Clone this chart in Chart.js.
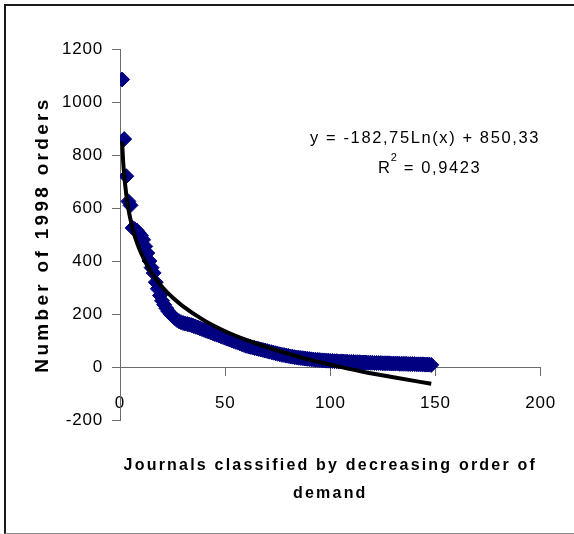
<!DOCTYPE html>
<html><head><meta charset="utf-8">
<script src="https://cdn.jsdelivr.net/npm/chart.js@4/dist/chart.umd.min.js"></script>
<style>
html,body{margin:0;padding:0;background:#fff;overflow:hidden;}
#wrap{position:relative;width:574px;height:534px;}
#frame{position:absolute;left:4px;top:4px;width:580px;height:527px;border-left:2px solid #1a1a1a;border-top:2px solid #1a1a1a;border-bottom:1px solid #8a8a8a;pointer-events:none;}
canvas{position:absolute;left:0;top:0;}
</style></head><body>
<div id="wrap"><canvas id="c" width="574" height="534"></canvas><div id="frame"></div></div>
<script>
// Number of 1998 orders per journal, journals ranked 1..N by decreasing demand
const orders = [
  1085, 860, 720, 625, 610, 525, 520, 515, 505, 495,
  480, 455, 430, 400, 375, 355, 320, 295, 270, 250,
  235, 222, 210, 200, 192, 185, 178, 173, 169, 166,
  164, 162, 160, 158, 155, 152, 149, 146, 143, 140,
  137, 134, 131, 128, 125, 122, 119, 116, 113, 110,
  107, 104, 101, 98, 95, 92, 89, 86, 83, 80,
  78, 76, 74, 72, 70, 68, 66, 64, 62, 60,
  58, 56, 54, 52, 50, 48, 46, 45, 43, 42,
  40, 39, 37, 36, 35, 34, 33, 32, 31, 30,
  29, 28, 27, 27, 26, 25, 25, 24, 24, 23,
  23, 22, 22, 21, 21, 21, 20, 20, 19, 19,
  19, 18, 18, 18, 17, 17, 17, 16, 16, 16,
  15, 15, 15, 15, 14, 14, 14, 14, 13, 13,
  13, 13, 12, 12, 12, 12, 11, 11, 11, 11,
  10, 10, 10, 10, 9, 9, 9, 8
];
// Logarithmic trendline
const trendRanks  = [1, 1.5, 2, 3, 4, 5, 6, 8, 10, 13, 16, 20, 25, 30, 40, 50, 60, 70, 80, 90, 100, 115, 130, 148];
const trendOrders = [850, 776, 724, 650, 597, 556, 523, 470, 430, 382, 344, 303, 262, 229, 176, 135, 102, 74, 50, 28, 9, -17, -39, -63];
const xTicks = [0, 50, 100, 150, 200];
const yTicks = [-200, 0, 200, 400, 600, 800, 1000, 1200];
const xTitle = ['Journals classified by decreasing order of', 'demand'];
const yTitle = 'Number of 1998 orders';
const eqLine = 'y = -182,75Ln(x) + 850,33';
const r2Parts = ['R', '2', ' = 0,9423'];

const FAMILY = '"Liberation Sans", Arial, sans-serif';

const spacingPlugin = {
  id: 'spacing',
  beforeInit(chart) {
    const ctx = chart.ctx;
    const of = ctx.fillText, om = ctx.measureText;
    const sp = c => {
      const f = c.font;
      if (/bold/.test(f)) return /19px/.test(f) ? '3.3px' : '2.2px';
      return '0.8px';
    };
    ctx._rawFill = of;
    ctx.fillText = function (t, x, y, m) { this.letterSpacing = sp(this); return m === undefined ? of.call(this, t, x, y) : of.call(this, t, x, y, m); };
    ctx.measureText = function (t) { this.letterSpacing = sp(this); return om.call(this, t); };
  }
};

const equationPlugin = {
  id: 'equation',
  afterDraw(chart) {
    const ctx = chart.ctx;
    const raw = ctx._rawFill;
    const big = () => { ctx.font = '16.5px ' + FAMILY; ctx.letterSpacing = '1.6px'; };
    const small = () => { ctx.font = '11px ' + FAMILY; ctx.letterSpacing = '1px'; };
    ctx.save();
    ctx.fillStyle = '#000';
    ctx.textBaseline = 'middle';
    big();
    ctx.textAlign = 'center';
    raw.call(ctx, eqLine, 425, 138);
    ctx.textAlign = 'left';
    const w1 = ctx.measureText(r2Parts[0]).width;
    small();
    const w2 = ctx.measureText(r2Parts[1]).width;
    big();
    const w3 = ctx.measureText(r2Parts[2]).width;
    let x = 426 - (w1 + w2 + w3) / 2;
    raw.call(ctx, r2Parts[0], x, 168);
    x += w1;
    small();
    raw.call(ctx, r2Parts[1], x, 158);
    x += w2;
    big();
    raw.call(ctx, r2Parts[2], x, 168);
    ctx.restore();
  }
};

const axisColor = '#6b6b6b';
const tickFont = {family: FAMILY, size: 17};

new Chart(document.getElementById('c'), {
  type: 'scatter',
  data: {
    datasets: [
      {
        type: 'line',
        label: 'Log trend',
        data: trendRanks.map((x, i) => ({x: x, y: trendOrders[i]})),
        borderColor: '#000',
        borderWidth: 4,
        pointRadius: 0,
        showLine: true,
        fill: false,
        cubicInterpolationMode: 'monotone',
        order: 0
      },
      {
        label: 'Orders',
        data: orders.map((v, i) => ({x: i + 1, y: v})),
        pointStyle: 'rectRot',
        pointRadius: 7.5,
        backgroundColor: '#000080',
        borderColor: '#000080',
        borderWidth: 1,
        order: 1
      }
    ]
  },
  options: {
    responsive: false,
    animation: false,
    events: [],
    layout: {padding: {left: 0, right: 30, top: 49, bottom: 26}},
    plugins: {
      legend: {display: false},
      tooltip: {enabled: false},
      title: {
        display: true,
        position: 'bottom',
        fullSize: false,
        text: xTitle,
        color: '#000',
        font: {family: FAMILY, size: 16, weight: 'bold', lineHeight: 1.75},
        padding: {top: 32, bottom: 0}
      }
    },
    scales: {
      x: {
        type: 'linear',
        position: {y: 0},
        min: 0,
        max: 200,
        afterBuildTicks: s => { s.ticks = xTicks.map(v => ({value: v})); },
        grid: {drawOnChartArea: false, drawTicks: true, tickLength: 8, tickColor: axisColor, tickWidth: 1},
        border: {display: true, color: axisColor, width: 1},
        ticks: {font: tickFont, color: '#000', padding: 18, maxRotation: 0, autoSkip: false, callback: v => String(v)}
      },
      y: {
        type: 'linear',
        position: 'left',
        min: -200,
        max: 1200,
        afterBuildTicks: s => { s.ticks = yTicks.map(v => ({value: v})); },
        afterFit: s => { s.width = 120; },
        grid: {drawOnChartArea: false, drawTicks: true, tickLength: 8, tickColor: axisColor, tickWidth: 1},
        border: {display: true, color: axisColor, width: 1},
        ticks: {font: tickFont, color: '#000', padding: 9, autoSkip: false, callback: v => String(v)},
        title: {
          display: true,
          text: yTitle,
          color: '#000',
          font: {family: FAMILY, size: 19, weight: 'bold'},
          padding: {top: 31, bottom: 0}
        }
      }
    }
  },
  plugins: [spacingPlugin, equationPlugin]
});
</script>
</body></html>
